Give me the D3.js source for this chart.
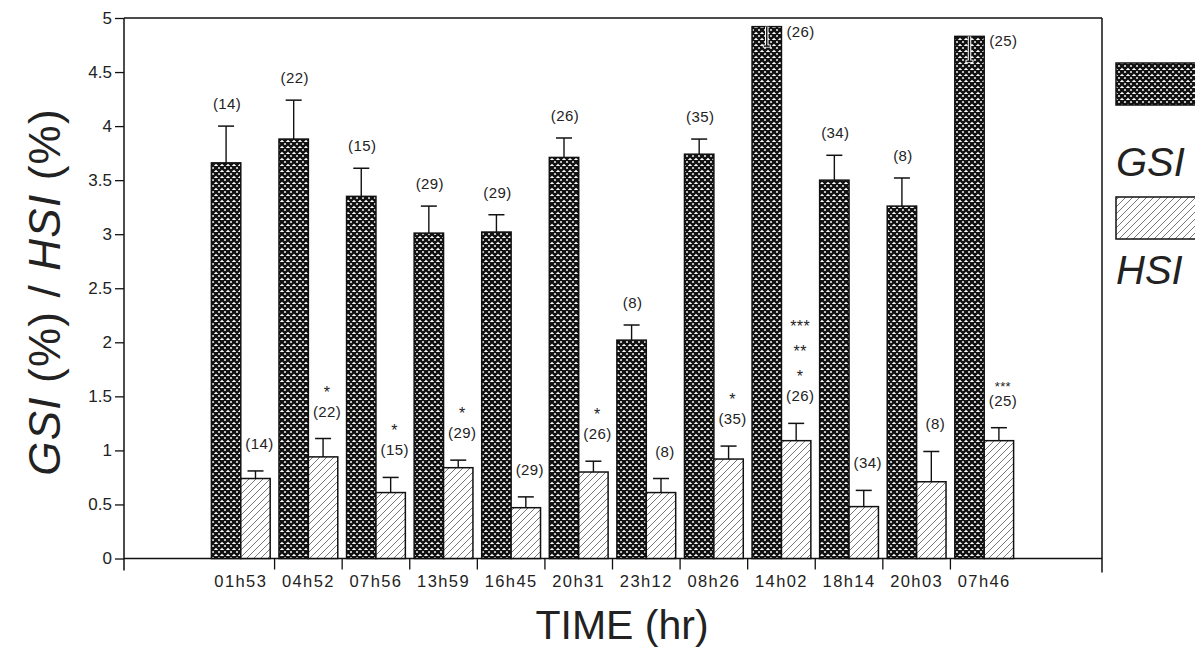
<!DOCTYPE html>
<html>
<head>
<meta charset="utf-8">
<script src="https://cdn.jsdelivr.net/npm/d3@7"></script>
<style>
  html, body { margin: 0; padding: 0; background: #fff; }
  svg { display: block; font-family: "Liberation Sans", Arial, sans-serif; }
</style>
</head>
<body>
<svg id="chart" width="1195" height="647"></svg>
<script>
// ---- data ----
const categories = ["01h53","04h52","07h56","13h59","16h45","20h31","23h12","08h26","14h02","18h14","20h03","07h46"];
const gsiMean = [3.66, 3.88, 3.35, 3.01, 3.02, 3.71, 2.02, 3.74, 4.92, 3.50, 3.26, 4.83];
const gsiErr  = [0.34, 0.36, 0.26, 0.25, 0.16, 0.18, 0.14, 0.14, 0.18, 0.23, 0.26, 0.23];
const hsiMean = [0.74, 0.94, 0.61, 0.84, 0.47, 0.80, 0.61, 0.92, 1.09, 0.48, 0.71, 1.09];
const hsiErr  = [0.07, 0.17, 0.14, 0.07, 0.10, 0.10, 0.13, 0.12, 0.16, 0.15, 0.28, 0.12];
const gsiN = [14, 22, 15, 29, 29, 26, 8, 35, 26, 34, 8, 25];
const hsiN = [14, 22, 15, 29, 29, 26, 8, 35, 26, 34, 8, 25];
const hsiStars = [[], ["*"], ["*"], ["*"], [], ["*"], [], ["*"], ["***","**","*"], [], [], ["***"]];
const yTicks = [0, 0.5, 1, 1.5, 2, 2.5, 3, 3.5, 4, 4.5, 5];
const yTickLabels = ["0","0.5","1","1.5","2","2.5","3","3.5","4","4.5","5"];
const seriesNames = ["GSI", "HSI"];

// ---- layout ----
const svg = d3.select("#chart");
const plot = { left: 124, right: 1102, top: 18, bottom: 558.5 };

const y = d3.scaleLinear().domain([0, 5]).range([plot.bottom, plot.top]);
const x = d3.scaleBand().domain(categories).range([207, 1018]).paddingInner(0.13).paddingOuter(0.065);
const bw = x.bandwidth() / 2;

// patterns
const defs = svg.append("defs");
const cross = defs.append("pattern").attr("id", "cross").attr("patternUnits", "userSpaceOnUse")
  .attr("width", 6).attr("height", 6);
cross.append("rect").attr("width", 6).attr("height", 6).attr("fill", "#fff");
cross.append("path").attr("d", "M-1,1 L1,-1 M0,6 L6,0 M5,7 L7,5 M-1,5 L1,7 M0,0 L6,6 M5,-1 L7,1")
  .attr("stroke", "#111").attr("stroke-width", 2.5);
const hatch = defs.append("pattern").attr("id", "hatch").attr("patternUnits", "userSpaceOnUse")
  .attr("width", 7).attr("height", 7);
hatch.append("rect").attr("width", 7).attr("height", 7).attr("fill", "#fff");
hatch.append("path").attr("d", "M-1,1 L1,-1 M0,7 L7,0 M6,8 L8,6")
  .attr("stroke", "#555").attr("stroke-width", 0.8);

// frame
svg.append("line").attr("x1", plot.left).attr("x2", plot.right).attr("y1", plot.top).attr("y2", plot.top)
  .attr("stroke", "#111").attr("stroke-width", 1.3);
svg.append("line").attr("x1", plot.right).attr("x2", plot.right).attr("y1", plot.top).attr("y2", plot.bottom + 14)
  .attr("stroke", "#111").attr("stroke-width", 1.5);

// y axis
const yAxis = d3.axisLeft(y).tickValues(yTicks).tickFormat((d, i) => yTickLabels[i]).tickSize(9).tickPadding(3);
const gy = svg.append("g").attr("transform", `translate(${plot.left},0)`).call(yAxis);
gy.select(".domain").remove();
gy.selectAll(".tick line").attr("stroke", "#111").attr("stroke-width", 1.3);
gy.selectAll(".tick text").attr("font-size", 17).attr("fill", "#222");
svg.append("line").attr("x1", plot.left).attr("x2", plot.left).attr("y1", plot.top).attr("y2", plot.bottom + 12)
  .attr("stroke", "#111").attr("stroke-width", 1.5);

// x axis
svg.append("line").attr("x1", plot.left).attr("x2", plot.right).attr("y1", plot.bottom).attr("y2", plot.bottom)
  .attr("stroke", "#111").attr("stroke-width", 1.5);
const step = x.step();
categories.forEach((c, i) => {
  if (i > 0) {
    const bx = x(c) - step * x.paddingInner() / 2;
    svg.append("line").attr("x1", bx).attr("x2", bx).attr("y1", plot.bottom).attr("y2", plot.bottom + 11)
      .attr("stroke", "#111").attr("stroke-width", 1.3);
  }
  svg.append("text").attr("x", x(c) + x.bandwidth() / 2).attr("y", plot.bottom + 28)
    .attr("text-anchor", "middle").attr("font-size", 16.5).attr("letter-spacing", 1.4).attr("fill", "#222")
    .text(c);
});

// bars
const g = svg.append("g");
function drawSeries(means, errs, offset, fill) {
  categories.forEach((c, i) => {
    const x0 = x(c) + offset;
    const top = y(means[i]);
    g.append("rect").attr("x", x0).attr("y", top).attr("width", bw).attr("height", y(0) - top)
      .attr("fill", fill).attr("stroke", "#111").attr("stroke-width", 1.5);
    const cx = x0 + bw / 2;
    const over = means[i] + errs[i] > 5;
    const endV = over ? means[i] - errs[i] : means[i] + errs[i];
    if (over) {
      g.append("line").attr("x1", cx).attr("x2", cx).attr("y1", top).attr("y2", y(endV))
        .attr("stroke", "#fff").attr("stroke-width", 3.5);
      g.append("line").attr("x1", cx - 4).attr("x2", cx + 4).attr("y1", y(endV)).attr("y2", y(endV))
        .attr("stroke", "#fff").attr("stroke-width", 3);
    }
    g.append("line").attr("x1", cx).attr("x2", cx).attr("y1", top).attr("y2", y(endV))
      .attr("stroke", "#111").attr("stroke-width", 1.4);
    g.append("line").attr("x1", cx - (over ? 3 : 8)).attr("x2", cx + (over ? 3 : 8)).attr("y1", y(endV)).attr("y2", y(endV))
      .attr("stroke", "#111").attr("stroke-width", 1.5);
  });
}
drawSeries(gsiMean, gsiErr, 0, "url(#cross)");
drawSeries(hsiMean, hsiErr, bw, "url(#hatch)");

// annotations
const ann = svg.append("g").attr("font-size", 15).attr("fill", "#222").attr("letter-spacing", 0.4);
categories.forEach((c, i) => {
  const cx = x(c) + bw / 2;
  const capV = gsiMean[i] + gsiErr[i];
  if (capV > 5) {
    ann.append("text").attr("x", x(c) + bw + 5).attr("y", y(gsiMean[i]) + 10).text(`(${gsiN[i]})`);
  } else {
    ann.append("text").attr("x", cx + 1).attr("y", y(capV) - 17).attr("text-anchor", "middle").text(`(${gsiN[i]})`);
  }
  const hx = x(c) + bw + bw / 2 + 4;
  const hy = y(hsiMean[i] + hsiErr[i]) - 22;
  ann.append("text").attr("x", hx).attr("y", hy).attr("text-anchor", "middle").text(`(${hsiN[i]})`);
  const stars = hsiStars[i];
  const tight = stars.length === 1 && stars[0] === "***";
  if (tight) {
    ann.append("text").attr("x", hx).attr("y", hy - 15).attr("text-anchor", "middle")
      .attr("font-size", 13).text(stars[0]);
  } else {
    stars.slice().reverse().forEach((s, k) => {
      ann.append("text").attr("x", hx).attr("y", hy - 25 * (k + 1) + 6).attr("text-anchor", "middle")
        .attr("font-size", 16).text(s);
    });
  }
});

// axis titles
svg.append("text").attr("transform", "translate(60,292) rotate(-90)").attr("text-anchor", "middle")
  .attr("font-size", 44).attr("letter-spacing", 1.2).attr("fill", "#222")
  .html('<tspan font-style="italic">GSI</tspan> (%) / <tspan font-style="italic">HSI</tspan> (%)');
svg.append("text").attr("x", 622).attr("y", 639).attr("text-anchor", "middle")
  .attr("font-size", 41).attr("fill", "#222").text("TIME (hr)");

// legend
const leg = svg.append("g");
const legFills = ["url(#cross)", "url(#hatch)"];
const legTops = [63, 197];
const legTextY = [176, 284];
seriesNames.forEach((name, i) => {
  leg.append("rect").attr("x", 1116).attr("y", legTops[i]).attr("width", 90).attr("height", 42)
    .attr("fill", legFills[i]).attr("stroke", "#111").attr("stroke-width", 1.5);
  leg.append("text").attr("x", 1116).attr("y", legTextY[i]).attr("font-size", 40)
    .attr("font-style", "italic").attr("fill", "#222").text(name);
});
</script>
</body>
</html>
